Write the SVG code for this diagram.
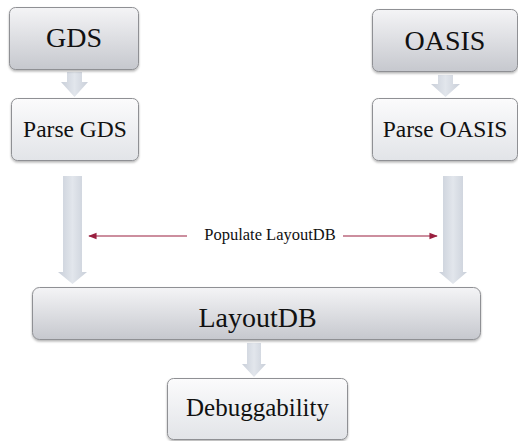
<svg xmlns="http://www.w3.org/2000/svg" width="518" height="441" viewBox="0 0 518 441">
<defs>
<linearGradient id="gTop" x1="0" y1="0" x2="0" y2="1"><stop offset="0" stop-color="#f4f4f6"/><stop offset="1" stop-color="#c6c8ce"/></linearGradient>
<linearGradient id="gLight" x1="0" y1="0" x2="0" y2="1"><stop offset="0" stop-color="#fbfbfc"/><stop offset="1" stop-color="#e2e4e8"/></linearGradient>
<linearGradient id="gArrowH" x1="0" y1="0" x2="1" y2="0"><stop offset="0" stop-color="#c9cfd9"/><stop offset="0.5" stop-color="#e2e6ec"/><stop offset="1" stop-color="#c9cfd9"/></linearGradient>
<filter id="sh" x="-10%" y="-10%" width="120%" height="130%"><feDropShadow dx="0" dy="1.5" stdDeviation="1.2" flood-color="#000" flood-opacity="0.3"/></filter>
<marker id="ah" viewBox="0 0 10 10" refX="9" refY="5" markerWidth="7" markerHeight="7" orient="auto-start-reverse"><path d="M0,1 L10,5 L0,9 z" fill="#9a1f3f"/></marker>
<style>
.box{stroke:#8f9094;stroke-width:1;filter:url(#sh)}
.t{font-family:"Liberation Serif","Times New Roman",serif;fill:#111;text-anchor:middle}
.arr{fill:url(#gArrowH)}
.con{stroke:#9a1f3f;stroke-width:1.2;fill:none}
</style>
</defs>
<g id="connectors">
<path class="arr" d="M67,72 H82 V82 H88 L74.5,97 L61,82 H67 Z"/>
<path class="arr" d="M438,75 H453 V84 H460 L445.5,97 L431,84 H438 Z"/>
<path class="arr" d="M63,176 H82 V272 H87 L72.5,284 L58,272 H63 Z"/>
<path class="arr" d="M443,176 H463 V272 H467 L453,284 L439,272 H443 Z"/>
<path class="arr" d="M247,343 H261 V364 H266 L254,377 L242,364 H247 Z"/>
<line class="con" x1="187" y1="236" x2="89" y2="236" marker-end="url(#ah)"/>
<line class="con" x1="343" y1="236" x2="437" y2="236" marker-end="url(#ah)"/>
<text class="t" x="270" y="240" font-size="16.5">Populate LayoutDB</text>
</g>
<g id="gds"><rect class="box" x="9.5" y="7.5" width="129" height="62" rx="6" fill="url(#gTop)"/><text class="t" x="74" y="47" font-size="28">GDS</text></g>
<g id="oasis"><rect class="box" x="372.5" y="9.5" width="145" height="62" rx="6" fill="url(#gTop)"/><text class="t" x="445" y="50" font-size="28">OASIS</text></g>
<g id="parse-gds"><rect class="box" x="11.5" y="98.5" width="127" height="62" rx="6" fill="url(#gLight)"/><text class="t" x="75" y="137" font-size="23.5">Parse GDS</text></g>
<g id="parse-oasis"><rect class="box" x="372.5" y="98.5" width="145" height="62" rx="6" fill="url(#gLight)"/><text class="t" x="445" y="137" font-size="23.5">Parse OASIS</text></g>
<g id="layoutdb"><rect class="box" x="32.5" y="287.5" width="448" height="52" rx="7" fill="url(#gTop)"/><text class="t" x="257.5" y="327" font-size="28">LayoutDB</text></g>
<g id="debuggability"><rect class="box" x="167.5" y="378.5" width="180" height="61" rx="6" fill="url(#gLight)"/><text class="t" x="257.5" y="416" font-size="25">Debuggability</text></g>
</svg>
